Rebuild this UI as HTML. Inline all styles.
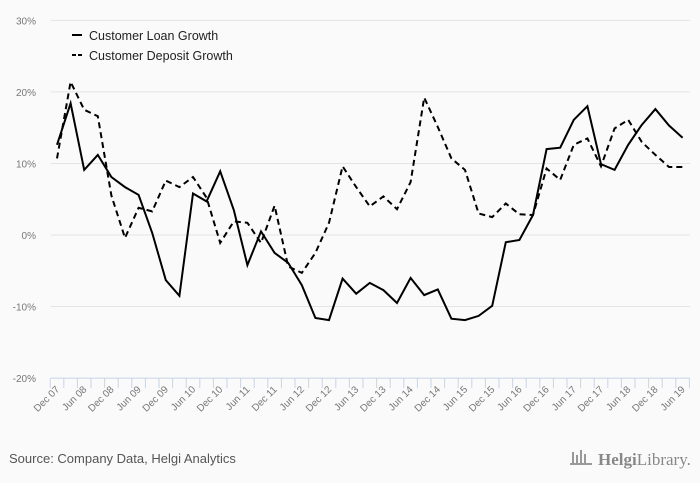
<!DOCTYPE html>
<html><head><meta charset="utf-8"><style>
body{margin:0;background:#fafafa;font-family:"Liberation Sans",sans-serif}
svg{display:block}
</style></head><body>
<svg id="c" width="700" height="483">
<rect width="700" height="483" fill="#fafafa"/>
<g id="grid"></g><g id="xaxis"></g><g id="series"></g>
<g>
<line x1="72" y1="35" x2="82" y2="35" stroke="#000" stroke-width="2"/>
<text x="89" y="40" font-size="12.5" fill="#222">Customer Loan Growth</text>
<line x1="72" y1="55" x2="82" y2="55" stroke="#000" stroke-width="2" stroke-dasharray="4,2"/>
<text x="89" y="60" font-size="12.5" fill="#222">Customer Deposit Growth</text>
</g>
<text x="9" y="463" font-size="13" fill="#555">Source: Company Data, Helgi Analytics</text>
<text x="598" y="465" font-size="17" fill="#888" font-family="Liberation Serif,serif"><tspan font-weight="bold">Helgi</tspan>Library.</text>
<g fill="#999"><rect x="572" y="452" width="2" height="12"/><rect x="576" y="455" width="2" height="9"/><rect x="580" y="450" width="2" height="14"/><rect x="584" y="454" width="2" height="10"/><rect x="570" y="463" width="22" height="2"/></g>
</svg>
<script>
const categories=[];
(function(){let y=7,m='Dec';for(let i=0;i<47;i++){categories.push(i);} })();
const tickLabels=["Dec 07","Jun 08","Dec 08","Jun 09","Dec 09","Jun 10","Dec 10","Jun 11","Dec 11","Jun 12","Dec 12","Jun 13","Dec 13","Jun 14","Dec 14","Jun 15","Dec 15","Jun 16","Dec 16","Jun 17","Dec 17","Jun 18","Dec 18","Jun 19"];
const loanGrowth=[12.6,18.4,9.1,11.2,8.1,6.7,5.6,0.3,-6.3,-8.5,5.8,4.7,8.9,3.5,-4.2,0.5,-2.5,-3.9,-7,-11.6,-11.9,-6.1,-8.2,-6.7,-7.7,-9.5,-6,-8.4,-7.6,-11.7,-11.9,-11.3,-9.9,-1,-0.7,2.8,12,12.2,16.1,18,9.9,9.1,12.6,15.4,17.6,15.3,13.6];
const depositGrowth=[10.7,21.4,17.5,16.6,5.5,-0.4,3.8,3.3,7.6,6.7,8.1,5.2,-1.1,1.9,1.7,-1.1,4.1,-4.4,-5.3,-2.5,1.7,9.6,6.7,4,5.4,3.6,7.4,19.2,15.1,10.7,9.1,3,2.5,4.4,2.9,2.8,9.3,7.7,12.6,13.5,9.6,14.9,16.1,13,11.2,9.5,9.5];
const yTicks=[30,20,10,0,-10,-20];
const NS='http://www.w3.org/2000/svg';
const xs=i=>57+i*13.6;
const ys=v=>235-v*7.155;
function mk(t,a,p){const e=document.createElementNS(NS,t);for(const k in a)e.setAttribute(k,a[k]);p.appendChild(e);return e;}
const grid=document.getElementById('grid');
yTicks.forEach(v=>{
const l=mk('line',{x1:51,x2:690,y1:ys(v),y2:ys(v),stroke:v===-20?'#c8d4e6':'#e4e4e4','stroke-width':1},grid);


const t=mk('text',{x:36,y:ys(v)+4,'text-anchor':'end','font-size':10,fill:'#777'},grid);
t.textContent=v+'%';


});
const xa=document.getElementById('xaxis');
for(let i=0;i<=47;i++){
const x=xs(i)-6.8;
const tk=mk('line',{x1:x,x2:x,y1:378,y2:388,stroke:'#c8d4e6'},xa);


}
tickLabels.forEach((s,j)=>{
const x=xs(j*2)+3,y=390;
const t=mk('text',{x:x,y:y,'text-anchor':'end','font-size':10,fill:'#777',transform:`rotate(-45 ${x} ${y})`},xa);
t.textContent=s;


});
const sg=document.getElementById('series');
function line(vals,dash,name){
const d=vals.map((v,i)=>(i?'L':'M')+xs(i).toFixed(1)+' '+ys(v).toFixed(1)).join(' ');
const p=mk('path',{d:d,fill:'none',stroke:'#000','stroke-width':2,'stroke-linejoin':'miter'},sg);
if(dash)p.setAttribute('stroke-dasharray','6,4');


}
line(depositGrowth,true,'deposit-growth-line');
line(loanGrowth,false,'loan-growth-line');
</script>
</body></html>
